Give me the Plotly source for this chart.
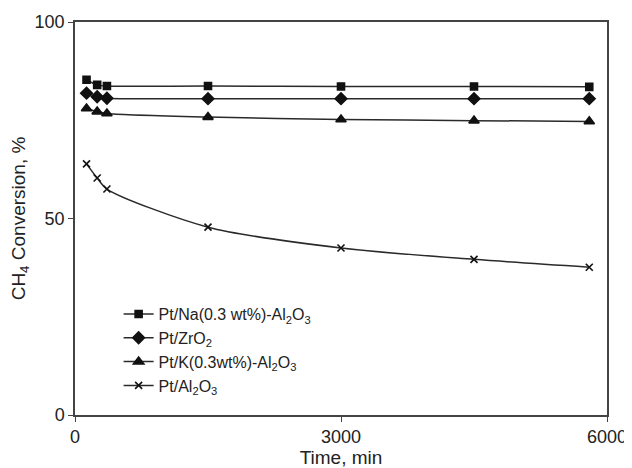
import plotly.graph_objects as go

time = [130, 250, 360, 1500, 3000, 4500, 5800]
na_al2o3 = [85.3, 84.0, 83.7, 83.7, 83.6, 83.6, 83.5]
zro2 = [81.9, 81.0, 80.6, 80.5, 80.5, 80.5, 80.5]
k_al2o3 = [78.0, 77.2, 76.7, 75.8, 75.2, 74.9, 74.7]
al2o3 = [63.9, 60.3, 57.5, 47.8, 42.5, 39.6, 37.6]

names = ["Pt/Na(0.3 wt%)-Al<sub>2</sub>O<sub>3</sub>", "Pt/ZrO<sub>2</sub>",
         "Pt/K(0.3wt%)-Al<sub>2</sub>O<sub>3</sub>", "Pt/Al<sub>2</sub>O<sub>3</sub>"]
series = [na_al2o3, zro2, k_al2o3, al2o3]
symbols = ["square", "diamond", "triangle-up", "x-thin"]
sizes = [7, 9, 9, 7]

fig = go.Figure()
for name, ys, sym, sz in zip(names, series, symbols, sizes):
    fig.add_trace(go.Scatter(
        x=time, y=ys, name=name, mode="lines+markers",
        line=dict(color="#2a2a2a", width=1.5, shape="spline", smoothing=0.8),
        marker=dict(symbol=sym, size=sz, color="#111",
                    line=dict(color="#111", width=1.6)),
    ))

font = "Liberation Sans, Arial, sans-serif"
fig.update_layout(
    width=624, height=460,
    margin=dict(l=67, r=25, t=14, b=53),
    paper_bgcolor="white", plot_bgcolor="white",
    font=dict(family=font, size=18, color="#222"),
    showlegend=True,
    legend=dict(x=0.082, y=0.3, xanchor="left", yanchor="top",
                bgcolor="rgba(0,0,0,0)", font=dict(size=16),
                tracegroupgap=0, itemwidth=30),
    xaxis=dict(range=[0, 6000], tickvals=[0, 3000, 6000],
               showline=True, linecolor="#444", linewidth=1.5, mirror=True,
               ticks="outside", ticklen=5, tickcolor="#444", showgrid=False,
               zeroline=False, automargin=False,
               title=dict(text="Time, min", font=dict(size=19), standoff=2)),
    yaxis=dict(range=[0, 100], tickvals=[0, 50, 100],
               showline=True, linecolor="#444", linewidth=1.5, mirror=True,
               ticks="outside", ticklen=5, tickcolor="#444", showgrid=False,
               zeroline=False, automargin=False,
               title=dict(text="CH<sub>4</sub> Conversion, %", font=dict(size=19), standoff=6)),
)

fig.write_html("out.html")
